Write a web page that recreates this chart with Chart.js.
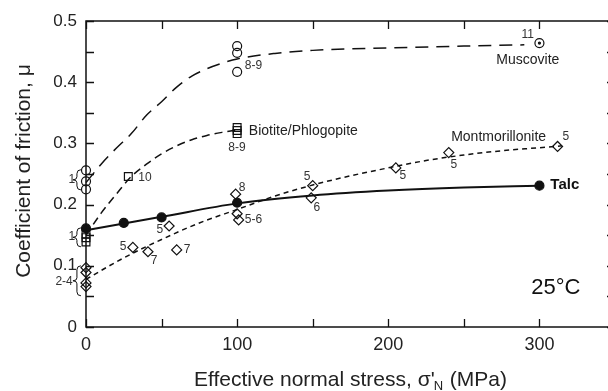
<!DOCTYPE html>
<html>
<head>
<meta charset="utf-8">
<script src="https://cdn.jsdelivr.net/npm/chart.js@4/dist/chart.umd.min.js"></script>
<style>
html, body { margin: 0; padding: 0; background: #fff; overflow: hidden; }
#wrap { width: 608px; height: 391px; overflow: hidden; position: relative; }
#wrap canvas { position: absolute; left: 0; top: 0; }
</style>
</head>
<body>
<div id="wrap"><canvas id="chart" width="626" height="391"></canvas></div>
<script>
// measured points (effective normal stress MPa, friction coefficient)
var talcX = [0, 25, 50, 100, 300];
var talcY = [0.161, 0.170, 0.179, 0.203, 0.231];
var muscX = [0, 0, 0, 100, 100, 100, 300];
var muscY = [0.256, 0.238, 0.225, 0.459, 0.448, 0.417, 0.464];
var bioX = [0, 0, 0, 28, 100, 100, 100];
var bioY = [0.152, 0.146, 0.139, 0.246, 0.326, 0.321, 0.316];
var montX = [0, 0, 0, 0, 31, 41, 55, 60, 99, 100, 101, 150, 149, 205, 240, 312];
var montY = [0.097, 0.089, 0.072, 0.066, 0.130, 0.123, 0.165, 0.126, 0.217, 0.185, 0.175, 0.231, 0.211, 0.260, 0.285, 0.295];

// trend curves as drawn in the figure
var talcFitX = [0, 25, 50, 100, 150, 200, 250, 300];
var talcFitY = [0.158, 0.169, 0.180, 0.202, 0.215, 0.223, 0.228, 0.231];
var muscFitX = [0, 10, 20, 30, 40, 50, 60, 70, 80, 90, 100, 125, 150, 200, 250, 290];
var muscFitY = [0.236, 0.266, 0.292, 0.316, 0.346, 0.368, 0.392, 0.410, 0.422, 0.431, 0.438, 0.447, 0.452, 0.456, 0.459, 0.461];
var bioFitX = [0, 10, 20, 30, 40, 50, 60, 70, 80, 90, 100];
var bioFitY = [0.150, 0.186, 0.217, 0.246, 0.266, 0.283, 0.296, 0.306, 0.313, 0.318, 0.322];
var montFitX = [0, 25, 50, 75, 100, 125, 150, 175, 200, 225, 250, 275, 300, 315];
var montFitY = [0.078, 0.113, 0.143, 0.170, 0.192, 0.214, 0.232, 0.247, 0.260, 0.272, 0.281, 0.288, 0.293, 0.296];

// axis tick positions (labels only on every second one)
var xTicks = [0, 50, 100, 150, 200, 250, 300, 350];
var yTicks = [0, 0.05, 0.1, 0.15, 0.2, 0.25, 0.3, 0.35, 0.4, 0.45, 0.5];

// reference numbers next to the points
var refText = ['8-9', '11', '8-9', '10', '5', '5', '5', '5', '6', '8', '5-6', '5', '5', '7', '7', '1', '1', '2-4'];
var refX = [110.8, 292.3, 99.9, 39, 317.5, 243.4, 209.7, 146.2, 152.8, 103.2, 110.8, 48.9, 24.5, 45, 66.8, -9.3, -9.3, -14.5];
var refY = [0.427, 0.477, 0.293, 0.244, 0.311, 0.265, 0.247, 0.2455, 0.195, 0.228, 0.175, 0.159, 0.131, 0.1085, 0.126, 0.241, 0.148, 0.074];

var nameText = ['Muscovite', 'Biotite/Phlogopite', 'Montmorillonite'];
var nameX = [292.3, 143.8, 273];
var nameY = [0.436, 0.3206, 0.311];

// braces grouping the points at zero stress
var braceX = -6;
var braceTop = [0.257, 0.162, 0.100];
var braceBot = [0.224, 0.131, 0.051];

var FONT = '"Liberation Sans", Arial, Helvetica, sans-serif';
var INK = '#111';

function toPts(xs, ys) {
    return xs.map(function(x, i) { return {x: x, y: ys[i]}; });
}
function fitSet(xs, ys, dash, width) {
    return {
        data: toPts(xs, ys), showLine: true, borderColor: INK, borderWidth: width,
        borderDash: dash, pointRadius: 0, cubicInterpolationMode: 'monotone', clip: false
    };
}
function pointSet(xs, ys, style, radius, filled) {
    return {
        data: toPts(xs, ys), showLine: false, pointStyle: style, pointRadius: radius,
        pointBorderWidth: 1.2, pointBorderColor: INK,
        pointBackgroundColor: filled ? INK : 'rgba(0,0,0,0)', clip: false
    };
}

function drawBrace(ctx, x, y1, y2) {
    var m = (y1 + y2) / 2, w = 4;
    ctx.beginPath();
    ctx.moveTo(x + w, y1);
    ctx.quadraticCurveTo(x, y1, x, y1 + 4);
    ctx.lineTo(x, m - 3);
    ctx.quadraticCurveTo(x, m, x - w, m);
    ctx.quadraticCurveTo(x, m, x, m + 3);
    ctx.lineTo(x, y2 - 4);
    ctx.quadraticCurveTo(x, y2, x + w, y2);
    ctx.stroke();
}

var decor = {
    id: 'decor',
    afterDraw: function(chart) {
        var ctx = chart.ctx, a = chart.chartArea;
        var sx = chart.scales.x, sy = chart.scales.y;
        ctx.save();
        ctx.strokeStyle = INK;
        ctx.lineWidth = 1.5;
        ctx.strokeRect(a.left, a.top, a.right - a.left, a.bottom - a.top);
        ctx.lineWidth = 1.3;
        ctx.beginPath();
        xTicks.forEach(function(v) {
            var px = Math.round(sx.getPixelForValue(v)) + 0.5;
            ctx.moveTo(px, a.bottom); ctx.lineTo(px, a.bottom - 8);
            ctx.moveTo(px, a.top); ctx.lineTo(px, a.top + 8);
        });
        yTicks.forEach(function(v) {
            var py = Math.round(sy.getPixelForValue(v)) + 0.5;
            ctx.moveTo(a.left, py); ctx.lineTo(a.left + 8, py);
            ctx.moveTo(a.right, py); ctx.lineTo(a.right - 8, py);
        });
        ctx.stroke();

        // braces
        ctx.lineWidth = 1;
        for (var b = 0; b < braceTop.length; b++) {
            drawBrace(ctx, sx.getPixelForValue(braceX), sy.getPixelForValue(braceTop[b]), sy.getPixelForValue(braceBot[b]));
        }

        ctx.textAlign = 'center';
        ctx.textBaseline = 'middle';
        ctx.fillStyle = '#333';
        ctx.font = '12px ' + FONT;
        for (var i = 0; i < refText.length; i++) {
            ctx.fillText(refText[i], sx.getPixelForValue(refX[i]), sy.getPixelForValue(refY[i]));
        }
        ctx.fillStyle = '#222';
        ctx.font = '14px ' + FONT;
        for (var j = 0; j < nameText.length; j++) {
            ctx.fillText(nameText[j], sx.getPixelForValue(nameX[j]), sy.getPixelForValue(nameY[j]));
        }
        ctx.fillStyle = INK;
        ctx.font = 'bold 15px ' + FONT;
        ctx.fillText('Talc', sx.getPixelForValue(316.8), sy.getPixelForValue(0.2325));
        ctx.font = '22px ' + FONT;
        ctx.fillText('25°C', sx.getPixelForValue(310.8), sy.getPixelForValue(0.0644));

        // axis titles
        ctx.fillStyle = '#222';
        var big = '21px ' + FONT, small = '13px ' + FONT;
        var p1 = 'Effective normal stress, σ\'', p2 = 'N', p3 = ' (MPa)';
        ctx.font = big;
        var w1 = ctx.measureText(p1).width, w3 = ctx.measureText(p3).width;
        ctx.font = small;
        var w2 = ctx.measureText(p2).width;
        var tx = (a.left + a.right) / 2 - (w1 + w2 + w3) / 2, ty = 380;
        ctx.textAlign = 'left';
        ctx.font = big;
        ctx.fillText(p1, tx, ty);
        ctx.font = small;
        ctx.fillText(p2, tx + w1 - 1, ty + 6);
        ctx.font = big;
        ctx.fillText(p3, tx + w1 + w2, ty);

        ctx.translate(24, 171);
        ctx.rotate(-Math.PI / 2);
        ctx.textAlign = 'center';
        ctx.fillText('Coefficient of friction, μ', 0, 0);
        ctx.restore();
    }
};

function isTenth(v) {
    return Math.abs(v * 10 - Math.round(v * 10)) < 1e-6;
}

new Chart(document.getElementById('chart'), {
    type: 'scatter',
    data: {
        datasets: [
            fitSet(muscFitX, muscFitY, [13, 8], 1.5),
            fitSet(bioFitX, bioFitY, [8, 5], 1.5),
            fitSet(montFitX, montFitY, [5, 4], 1.5),
            fitSet(talcFitX, talcFitY, [], 2),
            pointSet(muscX, muscY, 'circle', 4.5, false),
            pointSet([300], [0.464], 'circle', 1, true),
            pointSet(bioX, bioY, 'rect', 5.5, false),
            pointSet(montX, montY, 'rectRot', 5, false),
            pointSet(talcX, talcY, 'circle', 4.5, true)
        ]
    },
    options: {
        responsive: false,
        animation: false,
        events: [],
        layout: { padding: { top: 21, right: 11, left: 0, bottom: 0 } },
        plugins: { legend: { display: false }, tooltip: { enabled: false } },
        scales: {
            x: {
                type: 'linear', min: 0, max: 350,
                grid: { display: false, drawTicks: false }, border: { display: false },
                ticks: {
                    stepSize: 100, padding: 7, color: '#222', autoSkip: false,
                    font: { family: FONT, size: 18 },
                    callback: function(v) { return v % 100 === 0 ? String(v) : ''; }
                },
                afterFit: function(s) { s.height = 64; }
            },
            y: {
                type: 'linear', min: 0, max: 0.5,
                grid: { display: false, drawTicks: false }, border: { display: false },
                ticks: {
                    stepSize: 0.1, padding: 9, color: '#222', autoSkip: false,
                    font: { family: FONT, size: 17 },
                    callback: function(v) {
                        if (!isTenth(v)) return '';
                        return v === 0 ? '0' : v.toFixed(1);
                    }
                },
                afterFit: function(s) { s.width = 86; }
            }
        }
    },
    plugins: [decor]
});
</script>
</body>
</html>
